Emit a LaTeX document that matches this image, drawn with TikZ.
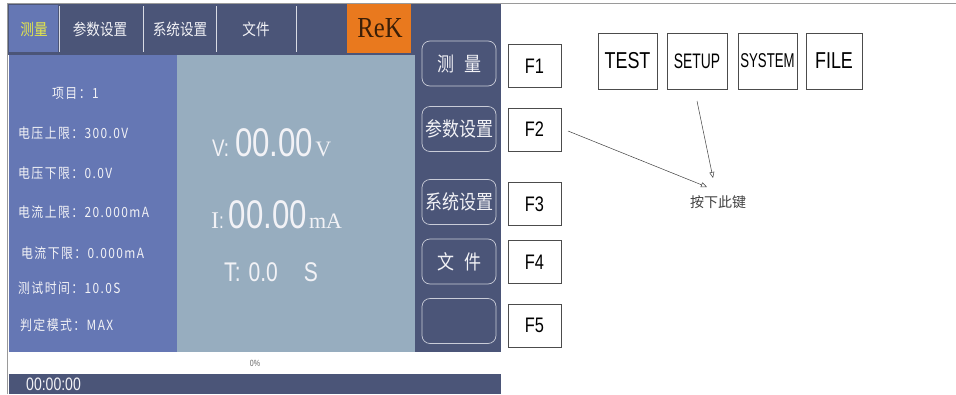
\documentclass[tikz,border=0pt]{standalone}
\usepackage{fontspec}
\setmainfont{Liberation Serif}
\newfontfamily\cjk{Noto Sans CJK SC}
\newfontfamily\cjkn[FakeStretch=0.85]{Noto Sans CJK SC}
\newfontfamily\parmf[FakeStretch=0.85,LetterSpace=10]{Noto Sans CJK SC}
\newfontfamily\narrow[FakeStretch=0.78]{Liberation Sans}
\newfontfamily\narrowb[FakeStretch=0.66]{Liberation Sans}
\newfontfamily\serifn[FakeStretch=0.85]{Liberation Serif}
\usetikzlibrary{arrows.meta}
\definecolor{navy}{HTML}{4B5578}
\definecolor{lblue}{HTML}{6577B4}
\definecolor{gblue}{HTML}{97ADBF}
\definecolor{orng}{HTML}{E9791E}
\definecolor{ylw}{HTML}{E6E84A}
\definecolor{btnline}{HTML}{C9CCD8}
\definecolor{txtw}{HTML}{F2F2F6}
\definecolor{lgray}{HTML}{9A9A9A}
\tikzset{
  tabtxt/.style={font=\cjkn\fontsize{16}{16}\selectfont, text=txtw, inner sep=0pt},
  parm/.style={font=\parmf\fontsize{14}{14}\selectfont, text=txtw, anchor=west, inner sep=0pt},
  sbtn/.style={draw=btnline, line width=0.7pt, rounded corners=8pt, minimum width=74pt, minimum height=45pt, inner sep=0pt, font=\cjkn\fontsize{20}{20}\selectfont, text=txtw},
  fkey/.style={draw=black!70, line width=0.6pt, fill=white, minimum width=53pt, minimum height=43pt, inner sep=0pt, font=\narrow\fontsize{21}{21}\selectfont},
  ekey/.style={draw=black!70, line width=0.6pt, fill=white, minimum height=56pt, inner sep=0pt},
  callout/.style={draw=black!75, line width=0.5pt, -{Triangle[open, length=6pt, width=5pt]}},
}
\begin{document}
\begin{tikzpicture}[x=1pt,y=-1pt]
\useasboundingbox (0,0) rectangle (956,394);
\fill[white] (0,0) rectangle (956,394);
% frame lines
\draw[lgray, line width=0.8pt] (7,394) -- (7,3) -- (956,3);
% top bar
\fill[navy] (8,4) rectangle (411,53);
\fill[lblue] (9,5) rectangle (58,52);
\fill[orng] (347,4) rectangle (411,53);
\foreach \xx in {59,143,216,296}{\draw[btnline!70, line width=0.6pt] (\xx,6) -- (\xx,52);}
\node[tabtxt, text=ylw] (tab1) at (34,29) {测量};
\node[tabtxt] (tab2) at (100,29) {参数设置};
\node[tabtxt] (tab3) at (180,29) {系统设置};
\node[tabtxt] (tab4) at (256,29) {文件};
\node[font=\serifn\fontsize{29}{29}\selectfont, text=black!75!orng, inner sep=0pt] (rek) at (380,28) {ReK};
% sidebar
\fill[navy] (411,4) rectangle (501,352);
% panels
\fill[navy] (8,53) rectangle (411,55);
\fill[lblue] (9,55) rectangle (177,352);
\fill[gblue] (177,55) rectangle (415,352);
% left params
\node[parm] (p1) at (52,93) {项目：1};
\node[parm] (p2) at (18,133) {电压上限：300.0V};
\node[parm] (p3) at (18,173) {电压下限：0.0V};
\node[parm] (p4) at (18,212) {电流上限：20.000mA};
\node[parm] (p5) at (21,253) {电流下限：0.000mA};
\node[parm] (p6) at (18,288) {测试时间：10.0S};
\node[parm] (p7) at (20,325) {判定模式：MAX};
% middle readings
\node[anchor=base west, inner sep=0pt, text=txtw] (vread) at (212,156)
  {{\narrow\fontsize{24}{24}\selectfont V:}\hspace{6pt}{\narrow\fontsize{40}{40}\selectfont 00.00}\hspace{2pt}{\fontsize{22}{22}\selectfont V}};
\node[anchor=base west, inner sep=0pt, text=txtw] (iread) at (211,228)
  {{\fontsize{24}{24}\selectfont I}{\narrow\fontsize{22}{22}\selectfont :}\hspace{5pt}{\narrow\fontsize{40}{40}\selectfont 00.00}\hspace{2pt}{\fontsize{22}{22}\selectfont mA}};
\node[anchor=base west, inner sep=0pt, text=txtw, font=\narrow\fontsize{27}{27}\selectfont] (tread) at (224,281) {T:\hspace{8pt}0.0\hspace{26pt}S};
% sidebar buttons
\node[sbtn] (b1) at (459,63.5) {测\hspace{10pt}量};
\node[sbtn] (b2) at (459,129) {参数设置};
\node[sbtn] (b3) at (459,202) {系统设置};
\node[sbtn] (b4) at (459,261.5) {文\hspace{10pt}件};
\node[sbtn] (b5) at (459,321) {};
% F keys
\node[fkey] (f1) at (534.5,66) {F1};
\node[fkey] (f2) at (534.5,129.5) {F2};
\node[fkey] (f3) at (534.5,204) {F3};
\node[fkey] (f4) at (534.5,262) {F4};
\node[fkey] (f5) at (534.5,325.5) {F5};
% bottom
\node[font=\narrow\fontsize{9}{9}\selectfont, text=black!60, inner sep=0pt] (pct) at (255,363) {0\%};
\fill[navy] (9,374) rectangle (501,394);
\node[anchor=west, font=\narrow\fontsize{18}{18}\selectfont, text=txtw, inner sep=0pt] (clock) at (26,384) {00:00:00};
% english keys
\node[ekey, minimum width=59pt, font=\narrow\fontsize{23}{23}\selectfont] (test) at (627.5,61) {TEST};
\node[ekey, minimum width=60pt, font=\narrowb\fontsize{21}{21}\selectfont] (setup) at (697,61) {SETUP};
\node[ekey, minimum width=59pt, font=\narrowb\fontsize{20}{20}\selectfont] (system) at (767.5,61) {SYSTEM};
\node[ekey, minimum width=56pt, font=\narrow\fontsize{23}{23}\selectfont] (file) at (834,61) {FILE};
% callout
\node[font=\cjk\fontsize{14}{14}\selectfont, text=black!75, inner sep=0pt] (press) at (718,202) {按下此键};
\coordinate (c1) at (568,131);
\coordinate (c2) at (697,101);
\coordinate (t1) at (707,187);
\coordinate (t2) at (713,178);
\draw[callout] (c1) -- (t1);
\draw[callout] (c2) -- (t2);
\end{tikzpicture}
\end{document}
